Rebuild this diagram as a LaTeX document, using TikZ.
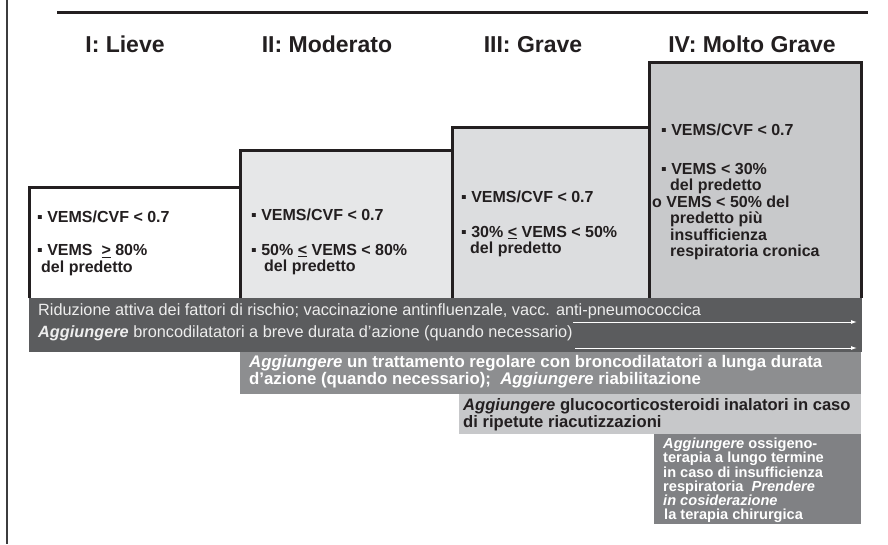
\documentclass[tikz,border=0pt]{standalone}
\usepackage{fontspec}
\setmainfont{Liberation Sans}
\usetikzlibrary{arrows.meta}

\definecolor{ink}{HTML}{231F20}
\definecolor{rule}{HTML}{3C3C3E}
\definecolor{stagetwo}{HTML}{E6E7E8}
\definecolor{stagethree}{HTML}{DCDDDF}
\definecolor{stagefour}{HTML}{C8C9CB}
\definecolor{barone}{HTML}{5B5C5E}
\definecolor{bartwo}{HTML}{8D8E90}
\definecolor{barthree}{HTML}{C7C8CA}
\definecolor{barfour}{HTML}{808184}

\newcommand{\sq}{▪\ }
\newcommand{\agg}{\textbf{\textit{Aggiungere}}}

\begin{document}
\begin{tikzpicture}[x=1pt, y=-1pt,
  stage/.style={anchor=base, inner sep=0pt, text=ink, font=\fontsize{23}{27}\selectfont\bfseries},
  crit/.style={anchor=west, inner sep=0pt, align=left, text=ink, font=\fontsize{16}{16.5}\selectfont\bfseries},
  therapy/.style={anchor=west, inner sep=0pt, align=left, font=\fontsize{16.6}{15}\selectfont\bfseries},
  frame/.style={draw=ink, line width=3pt},
  flow/.style={white, line width=1pt, -{Latex[length=6pt,width=4pt]}}]

\useasboundingbox (0,0) rectangle (888,544);

% page rules
\draw[rule, line width=2.5pt] (7,0) -- (7,544);
\draw[ink, line width=3pt] (57,12.5) -- (868,12.5);

% stage titles
\node[stage] (lieve)    at (125,52) {I: Lieve};
\node[stage] (moderato) at (327,52) {II: Moderato};
\node[stage] (grave)    at (533,52) {III: Grave};
\node[stage] (molto)    at (752,52) {IV: Molto Grave};

% -------- stage boxes -----------
\fill[white]      (29,187)  rectangle (240,298);
\fill[stagetwo]   (240,150) rectangle (452,298);
\fill[stagethree] (452,127) rectangle (649,298);
\fill[stagefour]  (649,62)  rectangle (861,298);
\draw[frame] (29,298) |- (240,187);
\draw[frame] (240,298) |- (452,150);
\draw[frame] (452,298) |- (649,127);
\draw[frame] (649,298) |- (861,62) -- (861,298);

\node[crit] (c1a) at (37,217) {\sq VEMS/CVF < 0.7};
\node[crit] (c1b) at (37,260) {\sq VEMS \ \underline{>} 80\%\\\hspace*{4pt}del predetto};

\node[crit] (c2a) at (251,215) {\sq VEMS/CVF < 0.7};
\node[crit] (c2b) at (251,259.5) {\sq 50\% \underline{<} VEMS < 80\%\\\hspace*{13pt}del predetto};

\node[crit] (c3a) at (461,197) {\sq VEMS/CVF < 0.7};
\node[crit] (c3b) at (461,241.5) {\sq 30\% \underline{<} VEMS < 50\%\\\hspace*{9pt}del predetto};

\node[crit] (c4a) at (661,130) {\sq VEMS/CVF < 0.7};
\node[crit] (c4b) at (652,211.5) {\hspace*{9pt}\sq VEMS < 30\%\\\hspace*{18pt}del predetto\\o VEMS < 50\% del\\\hspace*{18pt}predetto più\\\hspace*{18pt}insufficienza\\\hspace*{18pt}respiratoria cronica};

% -------- therapy bars -----------
\fill[barone]   (29,298)  rectangle (862,352);
\fill[bartwo]   (240,352) rectangle (861,394);
\fill[barthree] (459,394) rectangle (861,434);
\fill[barfour]  (654,434) rectangle (861,524);

\node[therapy, text=white!93!black, font=\fontsize{16.3}{15}\selectfont\mdseries] (rid) at (38,311)
  {Riduzione attiva dei fattori di rischio; vaccinazione antinfluenzale, vacc. anti-pneumococcica};
\node[therapy, text=white!93!black, font=\fontsize{16.3}{15}\selectfont\mdseries] (bre) at (38,333)
  {\agg{} broncodilatatori a breve durata d’azione (quando necessario)};
\coordinate (rid-s) at (573,322);
\coordinate (rid-e) at (857,322);
\coordinate (bre-s) at (575,348);
\coordinate (bre-e) at (857,348);
\draw[flow] (rid-s) -- (rid-e);
\draw[flow] (bre-s) -- (bre-e);

\node[therapy, text=white, font=\fontsize{16.8}{17}\selectfont\bfseries] (lunga) at (249,371.5)
  {\textit{Aggiungere} un trattamento regolare con broncodilatatori a lunga durata\\d’azione (quando necessario);\ \ \textit{Aggiungere} riabilitazione};
\node[therapy, text=ink] (gluco) at (463,414.5)
  {\textit{Aggiungere} glucocorticosteroidi inalatori in caso\\di ripetute riacutizzazioni};
\node[therapy, text=white, font=\fontsize{14.6}{13.6}\selectfont\bfseries] (ossi) at (663,480)
  {\textit{Aggiungere} ossigeno-\\terapia a lungo termine\\in caso di insufficienza\\respiratoria \ \textit{Prendere}\\\textit{in cosiderazione}\\\hspace*{1pt}la terapia chirurgica};
\end{tikzpicture}
\end{document}
